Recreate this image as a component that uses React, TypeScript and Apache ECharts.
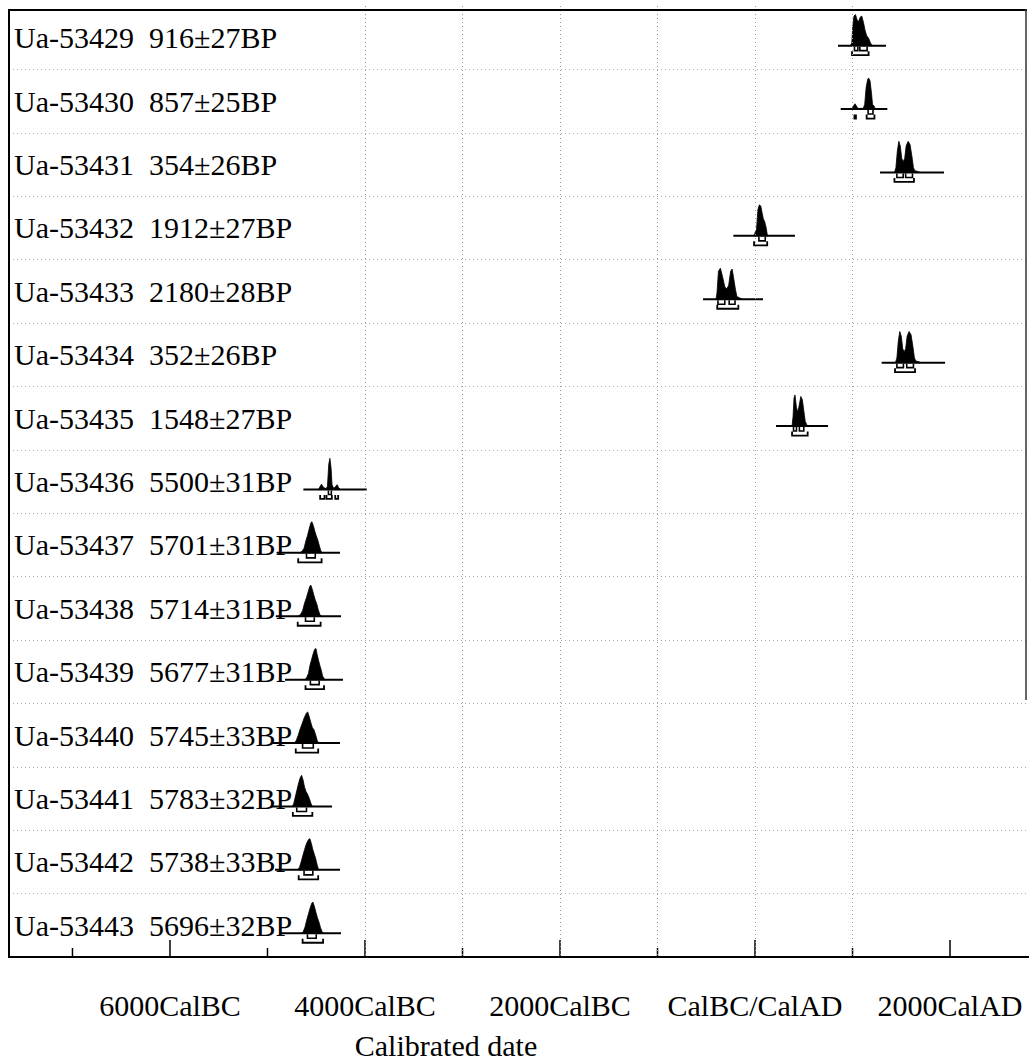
import { useEffect, useRef } from "react";
import * as echarts from "echarts";

// Sample labels (lab code and conventional radiocarbon age)
const sampleLabels = [
  "Ua-53429 \u00a0916±27BP",
  "Ua-53430 \u00a0857±25BP",
  "Ua-53431 \u00a0354±26BP",
  "Ua-53432 \u00a01912±27BP",
  "Ua-53433 \u00a02180±28BP",
  "Ua-53434 \u00a0352±26BP",
  "Ua-53435 \u00a01548±27BP",
  "Ua-53436 \u00a05500±31BP",
  "Ua-53437 \u00a05701±31BP",
  "Ua-53438 \u00a05714±31BP",
  "Ua-53439 \u00a05677±31BP",
  "Ua-53440 \u00a05745±33BP",
  "Ua-53441 \u00a05783±32BP",
  "Ua-53442 \u00a05738±33BP",
  "Ua-53443 \u00a05696±32BP",
];

// Calibrated probability curves: [calendar year (negative = BC), relative probability]
const curve53429 = [[980, 0], [993, 0.1], [1002, 0.6], [1015, 0.95], [1030, 1], [1048, 0.82], [1062, 0.78], [1080, 0.92], [1095, 0.95], [1112, 0.75], [1128, 0.5], [1145, 0.32], [1165, 0.24], [1185, 0.08], [1205, 0]];
const curve53430 = [[995, 0], [1010, 0.1], [1025, 0.17], [1040, 0.1], [1055, 0.02], [1110, 0.02], [1125, 0.15], [1140, 0.7], [1155, 0.95], [1165, 1], [1180, 0.9], [1195, 0.5], [1205, 0.15], [1220, 0.1], [1235, 0]];
const curve53431 = [[1430, 0], [1445, 0.15], [1460, 0.7], [1475, 1], [1490, 0.85], [1505, 0.45], [1520, 0.35], [1535, 0.45], [1550, 0.85], [1570, 1], [1590, 0.9], [1610, 0.5], [1625, 0.15], [1640, 0.05], [1670, 0.03], [1690, 0]];
const curve53432 = [[-10, 0], [0, 0.1], [15, 0.2], [30, 0.85], [45, 1], [60, 0.95], [72, 0.75], [85, 0.55], [100, 0.45], [115, 0.25], [125, 0.05], [135, 0]];
const curve53433 = [[-400, 0], [-390, 0.2], [-375, 0.9], [-355, 1], [-335, 0.75], [-310, 0.4], [-290, 0.33], [-270, 0.45], [-250, 0.9], [-235, 0.97], [-220, 0.7], [-200, 0.3], [-185, 0.08], [-160, 0.05], [-135, 0]];
const curve53434 = [[1440, 0], [1455, 0.15], [1470, 0.7], [1485, 1], [1500, 0.85], [1515, 0.45], [1530, 0.35], [1545, 0.45], [1560, 0.85], [1580, 1], [1600, 0.9], [1620, 0.5], [1635, 0.15], [1650, 0.05], [1680, 0.03], [1700, 0]];
const curve53435 = [[380, 0], [390, 0.3], [400, 0.9], [410, 1], [425, 0.6], [440, 0.45], [455, 0.7], [470, 0.95], [485, 0.85], [500, 0.5], [515, 0.15], [530, 0.05], [545, 0]];
const curve53436 = [[-4475, 0], [-4460, 0.1], [-4445, 0.17], [-4430, 0.08], [-4400, 0.02], [-4385, 0.1], [-4372, 0.8], [-4360, 1], [-4348, 0.7], [-4338, 0.15], [-4320, 0.03], [-4300, 0.1], [-4285, 0.15], [-4270, 0.05], [-4255, 0]];
const curve53437 = [[-4670, 0], [-4645, 0.05], [-4625, 0.15], [-4605, 0.4], [-4590, 0.55], [-4570, 0.8], [-4555, 0.97], [-4545, 1], [-4530, 0.88], [-4515, 0.7], [-4500, 0.55], [-4485, 0.42], [-4470, 0.25], [-4455, 0.08], [-4440, 0]];
const curve53438 = [[-4685, 0], [-4660, 0.06], [-4640, 0.18], [-4620, 0.42], [-4600, 0.6], [-4580, 0.82], [-4565, 0.97], [-4555, 1], [-4540, 0.86], [-4525, 0.68], [-4510, 0.52], [-4495, 0.4], [-4480, 0.22], [-4465, 0.07], [-4450, 0]];
const curve53439 = [[-4620, 0], [-4600, 0.05], [-4580, 0.2], [-4565, 0.45], [-4550, 0.62], [-4530, 0.85], [-4515, 0.98], [-4503, 1], [-4490, 0.8], [-4475, 0.6], [-4462, 0.45], [-4448, 0.3], [-4435, 0.12], [-4420, 0.03], [-4405, 0]];
const curve53440 = [[-4725, 0], [-4705, 0.08], [-4685, 0.25], [-4665, 0.45], [-4645, 0.62], [-4625, 0.8], [-4600, 0.97], [-4588, 1], [-4572, 0.85], [-4555, 0.65], [-4540, 0.5], [-4522, 0.42], [-4505, 0.25], [-4490, 0.08], [-4475, 0]];
const curve53441 = [[-4745, 0], [-4730, 0.1], [-4715, 0.3], [-4700, 0.5], [-4685, 0.7], [-4665, 0.92], [-4650, 1], [-4635, 0.85], [-4620, 0.62], [-4605, 0.48], [-4590, 0.4], [-4570, 0.25], [-4555, 0.1], [-4540, 0]];
const curve53442 = [[-4690, 0], [-4672, 0.08], [-4655, 0.25], [-4638, 0.45], [-4620, 0.65], [-4600, 0.85], [-4578, 0.98], [-4565, 1], [-4550, 0.85], [-4535, 0.65], [-4520, 0.5], [-4505, 0.35], [-4490, 0.15], [-4475, 0]];
const curve53443 = [[-4650, 0], [-4632, 0.06], [-4615, 0.2], [-4598, 0.42], [-4580, 0.62], [-4562, 0.82], [-4545, 0.97], [-4533, 1], [-4518, 0.85], [-4502, 0.66], [-4488, 0.5], [-4472, 0.36], [-4456, 0.18], [-4440, 0.05], [-4425, 0]];

const curves = [
  curve53429, curve53430, curve53431, curve53432, curve53433,
  curve53434, curve53435, curve53436, curve53437, curve53438,
  curve53439, curve53440, curve53441, curve53442, curve53443,
];

// Extent of each distribution's base line
const spans = [
  [851, 1344], [879, 1357], [1282, 1938], [-222, 410], [-533, 82],
  [1299, 1949], [215, 749], [-4632, -3982], [-4906, -4256], [-4915, -4246],
  [-4820, -4226], [-4944, -4256], [-4954, -4338], [-4923, -4256], [-4872, -4246],
];

// 68.2% highest probability ranges
const ranges68 = [
  [[1020, 1055], [1075, 1150]],
  [[1160, 1210]],
  [[1455, 1520], [1545, 1615]],
  [[40, 105]],
  [[-380, -310], [-265, -205]],
  [[1455, 1522], [1556, 1625]],
  [[395, 425], [455, 500]],
  [[-4375, -4345]],
  [[-4600, -4510]],
  [[-4610, -4520]],
  [[-4560, -4470]],
  [[-4640, -4530]],
  [[-4700, -4600]],
  [[-4625, -4535]],
  [[-4590, -4500]],
];

// 95.4% highest probability ranges
const ranges95 = [
  [[995, 1165]],
  [[1020, 1035], [1145, 1225]],
  [[1430, 1630]],
  [[-10, 125]],
  [[-387, -171]],
  [[1436, 1641]],
  [[380, 540]],
  [[-4460, -4415], [-4395, -4340], [-4305, -4275]],
  [[-4685, -4445]],
  [[-4690, -4455]],
  [[-4610, -4420]],
  [[-4710, -4480]],
  [[-4740, -4540]],
  [[-4680, -4480]],
  [[-4640, -4430]],
];

// Axis
const majorTickYears = [-6000, -4000, -2000, 0, 2000];
const minorTickYears = [-7000, -5000, -3000, -1000, 1000];
const tickLabels: Record<string, string> = {
  "-6000": "6000CalBC",
  "-4000": "4000CalBC",
  "-2000": "2000CalBC",
  "0": "CalBC/CalAD",
  "2000": "2000CalAD",
};
const gridYears = [-4000, -3000, -2000, -1000, 0, 1000];
const axisTitle = "Calibrated date";

const FONT = "'Liberation Serif', 'Times New Roman', serif";
const LAST_ROW = sampleLabels.length - 1;

export default function App() {
  const ref = useRef<HTMLDivElement>(null);

  useEffect(() => {
    if (!ref.current) return;
    const chart = echarts.init(ref.current, undefined, { renderer: "svg" });

    const rowData = sampleLabels.map((_, i) => [spans[i][0], i]);
    const tickData = [
      ...majorTickYears.map((v) => [v, LAST_ROW, 1]),
      ...minorTickYears.map((v) => [v, LAST_ROW, 0]),
    ];

    const option: any = {
      animation: false,
      backgroundColor: "#ffffff",
      grid: { left: 9, right: 0, top: 6, bottom: 104, containLabel: false },
      xAxis: {
        type: "value",
        min: -7651,
        max: 2810,
        minInterval: 2000,
        maxInterval: 2000,
        position: "bottom",
        axisLine: { show: true, onZero: false, lineStyle: { color: "#000", width: 2 } },
        axisTick: { show: false },
        axisLabel: {
          show: true,
          showMinLabel: false,
          showMaxLabel: false,
          margin: 33,
          fontSize: 30,
          fontFamily: FONT,
          color: "#000",
          formatter: (v: number) => tickLabels[String(v)] ?? "",
        },
        splitLine: { show: false },
      },
      yAxis: {
        type: "category",
        data: sampleLabels,
        inverse: true,
        boundaryGap: true,
        axisLine: { show: false },
        axisTick: { show: false },
        axisLabel: {
          inside: true,
          margin: 5,
          fontSize: 30,
          fontFamily: FONT,
          color: "#000",
          align: "left",
        },
        splitLine: {
          show: true,
          interval: (idx: number) => idx !== 0,
          lineStyle: { color: "#a8a8a8", type: [1, 3], width: 1 },
        },
      },
      graphic: [
        {
          type: "line",
          shape: { x1: 8, y1: 10, x2: 1027, y2: 10 },
          style: { stroke: "#000", lineWidth: 2 },
          z: 10,
        },
        {
          type: "line",
          shape: { x1: 9, y1: 9, x2: 9, y2: 958 },
          style: { stroke: "#000", lineWidth: 2 },
          z: 10,
        },
        {
          type: "line",
          shape: { x1: 1026, y1: 9, x2: 1026, y2: 700 },
          style: { stroke: "#333", lineWidth: 1.5 },
          z: 10,
        },
        {
          type: "text",
          x: 446,
          y: 1045,
          style: {
            text: axisTitle,
            fontSize: 30,
            fontFamily: FONT,
            fill: "#000",
            textAlign: "center",
            textVerticalAlign: "middle",
          },
        },
      ],
      series: [
        {
          type: "line",
          data: [],
          silent: true,
          markLine: {
            silent: true,
            symbol: "none",
            label: { show: false },
            lineStyle: { color: "#9a9a9a", type: [1, 3], width: 1 },
            data: gridYears.map((v) => ({ xAxis: v })),
          },
        },
        {
          // inward ticks on the date axis: long at even millennia, short between
          type: "custom",
          silent: true,
          data: tickData,
          encode: { x: 0, y: 1 },
          renderItem: (params: any, api: any) => {
            const yr = api.value(0);
            const major = api.value(2) === 1;
            const band = api.size([0, 1])[1];
            const x = api.coord([yr, LAST_ROW])[0];
            const yBottom = api.coord([yr, LAST_ROW])[1] + band / 2;
            const len = major ? 17 : 9;
            return {
              type: "line",
              shape: { x1: x, y1: yBottom, x2: x, y2: yBottom - len },
              style: { stroke: "#000", lineWidth: 1.5 },
            };
          },
        },
        {
          type: "custom",
          data: rowData,
          encode: { x: 0, y: 1 },
          renderItem: (params: any, api: any) => {
            const i = params.dataIndex;
            const band = api.size([0, 1])[1];
            const yc = api.coord([0, i])[1];
            const base = yc + band * 0.125;
            const peak = band * 0.49;
            const px = (yr: number) => api.coord([yr, i])[0];

            const pts = curves[i].map(([yr, h]) => [px(yr), base - h * peak]);
            const children: any[] = [
              {
                type: "polygon",
                shape: { points: pts },
                style: { fill: "#000", stroke: "#000", lineWidth: 0.8 },
              },
              {
                type: "line",
                shape: { x1: px(spans[i][0]), y1: base, x2: px(spans[i][1]), y2: base },
                style: { stroke: "#000", lineWidth: 2 },
              },
            ];
            ranges68[i].forEach(([a, b]) => {
              children.push({
                type: "polyline",
                shape: {
                  points: [
                    [px(a), base + 1],
                    [px(a), base + 5],
                    [px(b), base + 5],
                    [px(b), base + 1],
                  ],
                },
                style: { stroke: "#000", lineWidth: 1.6, fill: "none" },
              });
            });
            ranges95[i].forEach(([a, b]) => {
              children.push({
                type: "polyline",
                shape: {
                  points: [
                    [px(a), base + 5.5],
                    [px(a), base + 9.5],
                    [px(b), base + 9.5],
                    [px(b), base + 5.5],
                  ],
                },
                style: { stroke: "#000", lineWidth: 1.8, fill: "none" },
              });
            });
            return { type: "group", children };
          },
        },
      ],
    };

    chart.setOption(option);
    return () => chart.dispose();
  }, []);

  return (
    <div
      ref={ref}
      style={{ position: "fixed", left: 0, top: 0, width: 1029, height: 1061, background: "#fff" }}
    />
  );
}
